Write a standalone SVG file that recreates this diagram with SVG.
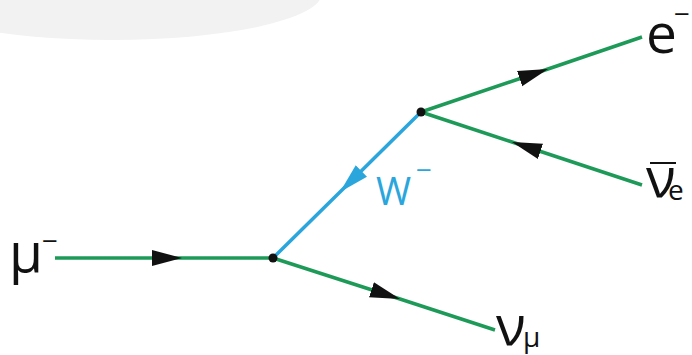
<svg xmlns="http://www.w3.org/2000/svg" width="692" height="355" viewBox="0 0 692 355">
  <defs>
    <style>
      .fermion { fill: none; stroke: #1e9a58; stroke-width: 3.5; marker-mid: url(#arrowK); }
      .boson { fill: none; stroke: #2aa6dd; stroke-width: 3.5; marker-mid: url(#arrowB); }
      .vertex { fill: #111; }
      .lbl { font-family: "Open Sans", "Noto Sans", "DejaVu Sans", sans-serif; fill: #111; }
      .main { font-size: 55px; }
      .sup { font-size: 28px; }
      .sub { font-size: 28px; }
      .wlbl { font-family: "Open Sans", "Noto Sans", "DejaVu Sans", sans-serif; fill: #2aa6dd; }
    </style>
    <marker id="arrowK" markerUnits="userSpaceOnUse" markerWidth="32" markerHeight="20" viewBox="0 -10 32 20" refX="30" refY="0" orient="auto">
      <path d="M0,-8 L30,0 L0,8 z" fill="#111"/>
    </marker>
    <marker id="arrowB" markerUnits="userSpaceOnUse" markerWidth="32" markerHeight="20" viewBox="0 -10 32 20" refX="30" refY="0" orient="auto">
      <path d="M0,-8 L30,0 L0,8 z" fill="#2aa6dd"/>
    </marker>
  </defs>

  <!-- soft backdrop in the upper left -->
  <ellipse cx="112" cy="-7" rx="210" ry="47" fill="#f2f2f2"/>

  <!-- propagators -->
  <g id="connectors">
    <path id="muon-in" class="fermion" d="M55,258 L182,258 L273,258"/>
    <path id="w-boson" class="boson" d="M421,112 L340,192 L273,258"/>
    <path id="electron-out" class="fermion" d="M421,112 L548,69 L642,37"/>
    <path id="antinu-e" class="fermion" d="M642,185 L512,142 L421,112"/>
    <path id="nu-mu-out" class="fermion" d="M273,258 L400,299 L495,330"/>
  </g>

  <!-- interaction vertices -->
  <g id="vertex-muon">
    <circle class="vertex" cx="273" cy="258" r="4.5"/>
  </g>
  <g id="vertex-w">
    <circle class="vertex" cx="421" cy="112" r="4.5"/>
  </g>

  <!-- particle labels -->
  <g id="label-mu">
    <text class="lbl main" x="9" y="272">μ<tspan class="sup" x="42" y="251">−</tspan></text>
  </g>
  <g id="label-e">
    <text class="lbl main" x="646" y="53">e<tspan class="sup" x="674" y="24">−</tspan></text>
  </g>
  <g id="label-antinu-e">
    <line x1="650" y1="163" x2="676" y2="163" stroke="#111" stroke-width="2"/>
    <text class="lbl main" x="646" y="197">ν<tspan class="sub" x="668" y="200">e</tspan></text>
  </g>
  <g id="label-nu-mu">
    <text class="lbl main" x="496" y="345">ν<tspan class="sub" x="523" y="347">μ</tspan></text>
  </g>
  <g id="label-w">
    <text class="wlbl" font-size="38" x="376" y="205">W<tspan font-size="28" x="416" y="180">−</tspan></text>
  </g>
</svg>
